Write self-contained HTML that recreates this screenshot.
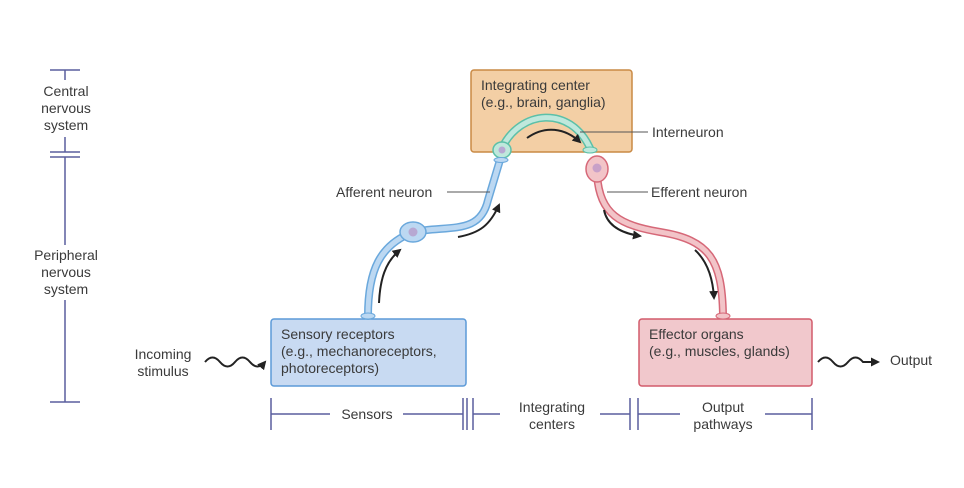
<!DOCTYPE html>
<html><head><style>body{margin:0;background:#fff}svg{display:block}text{font-family:"Liberation Sans",sans-serif;font-size:14px;fill:#3a3a3a}</style></head><body>
<svg width="964" height="488" viewBox="0 0 964 488" xmlns="http://www.w3.org/2000/svg">
<defs><marker id="ah" markerUnits="userSpaceOnUse" markerWidth="9" markerHeight="9" refX="7" refY="4.5" orient="auto"><path d="M0,0 L9,4.5 L0,9 Z" fill="#222"/></marker></defs>
<g stroke="#5a5e9e" stroke-width="1.5" fill="none">
<path d="M50,70H80M65,70V80M65,137V152M50,152H80M50,157H80M65,157V245M65,300V402M50,402H80"/>
<path d="M271,398V430M271,414H330M403,414H463M463,398V430M467,398V430M473,398V430M473,414H500M600,414H630M630,398V430M638,398V430M638,414H680M765,414H812M812,398V430"/>
</g>
<g text-anchor="middle">
<text x="66" y="96">Central</text><text x="66" y="113">nervous</text><text x="66" y="130">system</text>
<text x="66" y="260">Peripheral</text><text x="66" y="277">nervous</text><text x="66" y="294">system</text>
<text x="367" y="419">Sensors</text>
<text x="552" y="412">Integrating</text><text x="552" y="429">centers</text>
<text x="723" y="412">Output</text><text x="723" y="429">pathways</text>
<text x="163" y="359">Incoming</text><text x="163" y="376">stimulus</text>
</g>
<rect x="471" y="70" width="161" height="82" rx="3" fill="#f3cfa5" stroke="#c98a45" stroke-width="1.5"/>
<text x="481" y="90">Integrating center</text><text x="481" y="107">(e.g., brain, ganglia)</text>
<rect x="271" y="319" width="195" height="67" rx="3" fill="#c8daf2" stroke="#5c9ad8" stroke-width="1.5"/>
<text x="281" y="339">Sensory receptors</text><text x="281" y="356">(e.g., mechanoreceptors,</text><text x="281" y="373">photoreceptors)</text>
<rect x="639" y="319" width="173" height="67" rx="3" fill="#f1c8cc" stroke="#d25b6b" stroke-width="1.5"/>
<text x="649" y="339">Effector organs</text><text x="649" y="356">(e.g., muscles, glands)</text>
<g fill="none" stroke-linecap="round">
<path d="M368,316 C368,270 380,245 413,232 C450,225 480,235 488,200 L500,160" stroke="#6aa8dc" stroke-width="8"/>
<path d="M368,316 C368,270 380,245 413,232 C450,225 480,235 488,200 L500,160" stroke="#bcd8f2" stroke-width="5"/>
<path d="M502,148 C520,110 570,105 590,148" stroke="#5cc0a8" stroke-width="8"/>
<path d="M502,148 C520,110 570,105 590,148" stroke="#bfe8dc" stroke-width="5"/>
<path d="M597,175 C600,215 620,225 660,232 C710,240 722,260 723,315" stroke="#d66878" stroke-width="8"/>
<path d="M597,175 C600,215 620,225 660,232 C710,240 722,260 723,315" stroke="#f2c4c8" stroke-width="5"/>
</g>
<ellipse cx="413" cy="232" rx="13" ry="10" fill="#bcd8f2" stroke="#6aa8dc" stroke-width="1.5"/><circle cx="413" cy="232" r="4.5" fill="#b7a8d2"/>
<ellipse cx="502" cy="150" rx="9" ry="8" fill="#bfe8dc" stroke="#5cc0a8" stroke-width="1.5"/><circle cx="502" cy="150" r="3.5" fill="#b7a8d2"/>
<ellipse cx="597" cy="169" rx="11" ry="13" fill="#f2c4c8" stroke="#d66878" stroke-width="1.5"/><circle cx="597" cy="168" r="4.5" fill="#c8a0c8"/>
<ellipse cx="368" cy="316" rx="7" ry="3" fill="#bcd8f2" stroke="#6aa8dc"/><ellipse cx="723" cy="316" rx="7" ry="3" fill="#f2c4c8" stroke="#d66878"/>
<ellipse cx="590" cy="150" rx="7" ry="3" fill="#bfe8dc" stroke="#5cc0a8"/><ellipse cx="501" cy="160" rx="7" ry="2.5" fill="#bcd8f2" stroke="#6aa8dc"/>
<g fill="none" stroke="#222" stroke-width="2" marker-end="url(#ah)">
<path d="M379,303 C380,280 385,262 400,250"/>
<path d="M458,237 C480,233 490,225 499,205"/>
<path d="M527,138 C545,125 565,128 580,142"/>
<path d="M604,210 C607,225 620,233 640,236"/>
<path d="M695,250 C708,262 713,280 714,298"/>
<path d="M205,362 c5,-6 10,-6 15,0 s10,6 15,0 s10,-6 15,0 s10,6 15,0"/>
<path d="M818,362 c5,-6 10,-6 15,0 s10,6 15,0 s10,-6 15,0 h15"/>
</g>
<g stroke="#555" stroke-width="1"><path d="M447,192H490M580,132H648M607,192H648"/></g>
<text x="336" y="197">Afferent neuron</text>
<text x="652" y="137">Interneuron</text>
<text x="651" y="197">Efferent neuron</text>
<text x="890" y="365">Output</text>
</svg></body></html>
